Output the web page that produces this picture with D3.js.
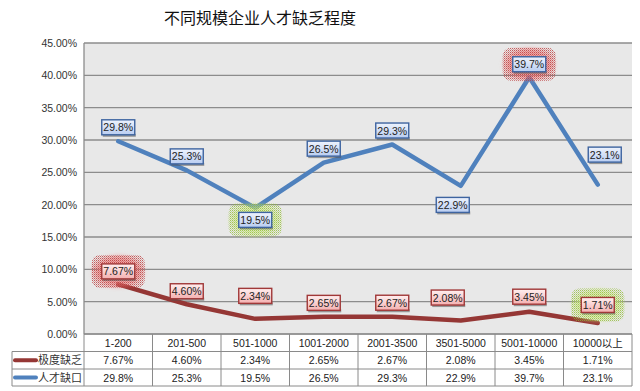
<!DOCTYPE html>
<html><head><meta charset="utf-8">
<script src="https://cdn.jsdelivr.net/npm/d3@7/dist/d3.min.js"></script>
<style>body{margin:0;background:#fff;}svg{display:block;}</style>
</head><body>
<svg id="c" width="640" height="391"></svg>
<script>
const categories = ["1-200","201-500","501-1000","1001-2000","2001-3500","3501-5000","5001-10000","10000以上"];
const severe = [7.67, 4.60, 2.34, 2.65, 2.67, 2.08, 3.45, 1.71];
const gap = [29.8, 25.3, 19.5, 26.5, 29.3, 22.9, 39.7, 23.1];
const severeText = ["7.67%","4.60%","2.34%","2.65%","2.67%","2.08%","3.45%","1.71%"];
const gapText = ["29.8%","25.3%","19.5%","26.5%","29.3%","22.9%","39.7%","23.1%"];
const seriesNames = ["极度缺乏","人才缺口"];
const yTicks = [0,5,10,15,20,25,30,35,40,45];
const title = "不同规模企业人才缺乏程度";
// label placement (offsets from point, px)
const gapLabelDy = [-14,-14,12,-14,-14,19,-13,-30];
const gapLabelDx = [0,0,0,0,0,-8,0,7];
const sevLabelDy = [-13,-13,-23,-14,-14,-23,-15,-18];
const sevLabelDx = [0,0,0,0,0,-13,0,0];

const svg = d3.select("#c");
const L=84, R=632, T=43, B=334;
const x = d3.scaleBand().domain(categories).range([L,R]).paddingInner(0).paddingOuter(0);
const y = d3.scaleLinear().domain([0,45]).range([B,T]);
const cx = d => x(d)+x.bandwidth()/2;
const font = "Arial, 'Liberation Sans', 'Noto Sans CJK SC', sans-serif";

const defs = svg.append("defs");
function grad(id,c1,c2){const g=defs.append("linearGradient").attr("id",id).attr("x1",0).attr("y1",0).attr("x2",0).attr("y2",1);
 g.append("stop").attr("offset","0%").attr("stop-color",c1);g.append("stop").attr("offset","100%").attr("stop-color",c2);}
grad("gblue","#eef3fd","#b9cdf1");
grad("gred","#fff0f0","#f4b0b0");
function dotPat(id,c){const p=defs.append("pattern").attr("id",id).attr("width",2).attr("height",2).attr("patternUnits","userSpaceOnUse");
 p.append("rect").attr("width",1).attr("height",1).attr("fill",c);
 p.append("rect").attr("x",1).attr("y",1).attr("width",1).attr("height",1).attr("fill",c).attr("opacity",0.5);}
dotPat("pred","#b83030");
dotPat("pgreen","#8cb830");
function radGrad(id,c){const g=defs.append("radialGradient").attr("id",id);
 g.append("stop").attr("offset","0%").attr("stop-color",c).attr("stop-opacity",0.9);
 g.append("stop").attr("offset","70%").attr("stop-color",c).attr("stop-opacity",0.6);
 g.append("stop").attr("offset","100%").attr("stop-color",c).attr("stop-opacity",0);}
radGrad("hred","#f08080");
radGrad("hgreen","#d4ec90");
defs.append("filter").attr("id","soft").append("feGaussianBlur").attr("stdDeviation",0.6);
defs.append("filter").attr("id","halo").append("feGaussianBlur").attr("stdDeviation",1.5);

// title
svg.append("text").attr("x",260).attr("y",24).attr("text-anchor","middle")
 .attr("font-family","'Noto Sans CJK SC', sans-serif").attr("font-size",16).attr("fill","#111").text(title);

// plot background
svg.append("rect").attr("x",L).attr("y",T).attr("width",R-L).attr("height",B-T).attr("fill","#e8e8e8");
// gridlines
svg.append("g").selectAll("line").data(yTicks).join("line")
 .attr("x1",L).attr("x2",R).attr("y1",d=>y(d)).attr("y2",d=>y(d))
 .attr("stroke","#8c8c8c").attr("stroke-width",1.3);
svg.append("line").attr("x1",L).attr("x2",L).attr("y1",T).attr("y2",B).attr("stroke","#8c8c8c").attr("stroke-width",1.3);

// y axis labels
svg.append("g").selectAll("text").data(yTicks).join("text")
 .attr("x",77).attr("y",d=>y(d)+4).attr("text-anchor","end")
 .attr("font-family",font).attr("font-size",10.5).attr("fill","#333")
 .text(d=>d3.format(".2f")(d)+"%");

// lines
const line = vals => d3.line().x((d,i)=>cx(categories[i])).y(d=>y(d))(vals);
svg.append("path").attr("d",line(gap)).attr("fill","none").attr("stroke","#4f81bd").attr("stroke-width",4.5).attr("stroke-linejoin","round").attr("stroke-linecap","round");
svg.append("path").attr("d",line(severe)).attr("fill","none").attr("stroke","#953735").attr("stroke-width",4.5).attr("stroke-linejoin","round").attr("stroke-linecap","round");

// labels
function labels(vals,texts,dx,dy,fill,stroke,shadow){
 const maxI=d3.maxIndex(vals), minI=d3.minIndex(vals);
 const g=svg.append("g");
 vals.forEach((v,i)=>{
  const px=cx(categories[i])+dx[i], py=y(v)+dy[i];
  const w=33,h=15;
  if(i===maxI||i===minI){
   const isMax=i===maxI;
   g.append("rect").attr("x",px-w/2-12).attr("y",py-h/2-11).attr("width",w+24).attr("height",h+22)
    .attr("rx",10).attr("fill",isMax?"url(#hred)":"url(#hgreen)").attr("filter","url(#halo)");
   g.append("rect").attr("x",px-w/2-10).attr("y",py-h/2-9).attr("width",w+20).attr("height",h+18)
    .attr("rx",8).attr("fill",isMax?"url(#pred)":"url(#pgreen)").attr("opacity",0.75);
  }
  g.append("rect").attr("x",px-w/2+1).attr("y",py+h/2-1).attr("width",w).attr("height",3)
   .attr("fill",shadow).attr("opacity",0.55).attr("filter","url(#soft)");
  g.append("rect").attr("x",px-w/2).attr("y",py-h/2).attr("width",w).attr("height",h)
   .attr("fill",fill).attr("stroke",stroke).attr("stroke-width",1.4);
  g.append("text").attr("x",px).attr("y",py+4).attr("text-anchor","middle")
   .attr("font-family",font).attr("font-size",10.5).attr("fill","#222").text(texts[i]);
 });
}
labels(gap,gapText,gapLabelDx,gapLabelDy,"url(#gblue)","#3e64a0","#555");
labels(severe,severeText,sevLabelDx,sevLabelDy,"url(#gred)","#a03838","#555");

// data table
const rowH=[334,351.5,369,386];
const tb=svg.append("g");
const bc="#8a8a8a";
tb.append("line").attr("x1",L).attr("x2",R).attr("y1",rowH[0]).attr("y2",rowH[0]).attr("stroke",bc);
[1,2,3].forEach(k=>tb.append("line").attr("x1",12).attr("x2",R).attr("y1",rowH[k]).attr("y2",rowH[k]).attr("stroke",bc));
tb.append("line").attr("x1",12).attr("x2",12).attr("y1",rowH[1]).attr("y2",rowH[3]).attr("stroke",bc);
categories.forEach(c=>tb.append("line").attr("x1",x(c)).attr("x2",x(c)).attr("y1",rowH[0]).attr("y2",rowH[3]).attr("stroke",bc));
tb.append("line").attr("x1",R).attr("x2",R).attr("y1",rowH[0]).attr("y2",rowH[3]).attr("stroke",bc);
tb.selectAll("text.h").data(categories).join("text").attr("class","h")
 .attr("x",d=>cx(d)).attr("y",(rowH[0]+rowH[1])/2+4).attr("text-anchor","middle")
 .attr("font-family",font).attr("font-size",10.5).attr("fill","#222").text(d=>d);
[[severeText,1],[gapText,2]].forEach(([arr,r])=>{
 tb.append("g").selectAll("text").data(arr).join("text")
  .attr("x",(d,i)=>cx(categories[i])).attr("y",(rowH[r]+rowH[r+1])/2+4).attr("text-anchor","middle")
  .attr("font-family",font).attr("font-size",10.5).attr("fill","#222").text(d=>d);
});
[["#953735",1],["#4f81bd",2]].forEach(([col,r],k)=>{
 const yy=(rowH[r]+rowH[r+1])/2;
 tb.append("line").attr("x1",15).attr("x2",36).attr("y1",yy).attr("y2",yy).attr("stroke",col).attr("stroke-width",4).attr("stroke-linecap","round");
 tb.append("text").attr("x",38).attr("y",yy+4).attr("font-family","'Noto Sans CJK SC', sans-serif").attr("font-size",11).attr("fill","#333").text(seriesNames[k]);
});
</script>
</body></html>
